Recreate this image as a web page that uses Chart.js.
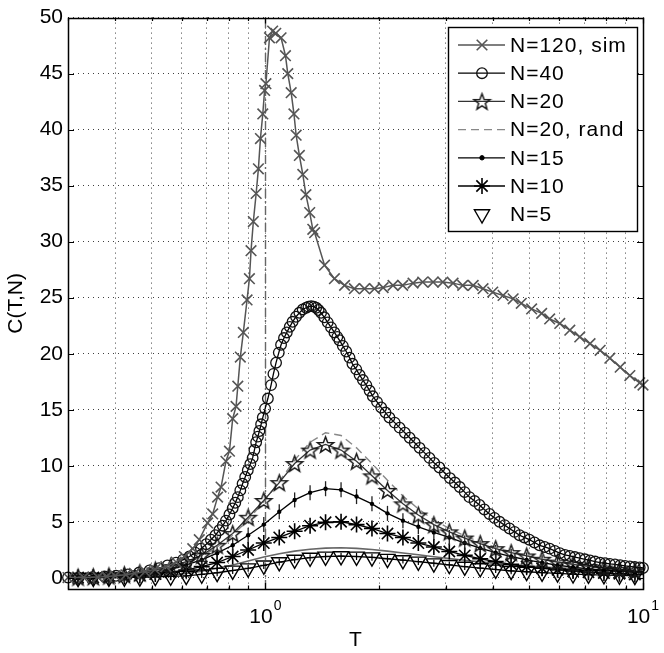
<!DOCTYPE html>
<html>
<head>
<meta charset="utf-8">
<title>C(T,N)</title>
<script src="https://cdn.jsdelivr.net/npm/chart.js@4.4.1/dist/chart.umd.min.js"></script>
<style>
  html, body { margin: 0; padding: 0; background: #fff; }
  #wrap { width: 664px; height: 653px; }
</style>
</head>
<body>
<div id="wrap"><canvas id="cChart"></canvas></div>
<script>
// N=120 simulation
const tSim = [0.30, 0.33, 0.36, 0.38, 0.40, 0.427, 0.45, 0.48, 0.51, 0.545, 0.58, 0.61, 0.642, 0.668, 0.703, 0.725, 0.747, 0.763, 0.786, 0.803, 0.819, 0.836, 0.845, 0.858, 0.874, 0.894, 0.907, 0.916, 0.929, 0.945, 0.958, 0.970, 0.984, 0.995, 1.003, 1.025, 1.045, 1.065, 1.10, 1.13, 1.146, 1.17, 1.19, 1.206, 1.23, 1.256, 1.28, 1.31, 1.335, 1.35, 1.434, 1.523, 1.62, 1.72, 1.83, 1.945, 2.05, 2.177, 2.31, 2.46, 2.61, 2.78, 2.95, 3.14, 3.33, 3.55, 3.77, 4.0, 4.26, 4.53, 4.76, 5.07, 5.39, 5.66, 6.02, 6.4, 6.8, 7.24, 7.7, 8.17, 8.7, 9.23, 9.8, 10.0];
const cSim = [0.02, 0.03, 0.06, 0.12, 0.18, 0.27, 0.4, 0.56, 0.75, 1.0, 1.4, 1.9, 2.6, 3.4, 4.9, 5.7, 7.2, 8.1, 10.4, 11.3, 14.2, 15.3, 17.1, 19.7, 21.9, 24.8, 26.7, 29.2, 31.8, 34.3, 36.5, 39.2, 41.4, 43.5, 44.1, 48.2, 48.8, 48.6, 48.2, 46.6, 45.0, 43.3, 41.4, 39.5, 37.7, 36.0, 34.2, 32.6, 31.1, 30.8, 27.9, 26.7, 26.1, 25.8, 25.8, 25.8, 25.9, 26.1, 26.1, 26.3, 26.4, 26.4, 26.4, 26.3, 26.1, 26.1, 25.8, 25.5, 25.2, 24.9, 24.5, 24.0, 23.6, 23.1, 22.7, 22.1, 21.5, 20.9, 20.3, 19.6, 18.8, 18.05, 17.4, 17.2];

// N=40
const tN40 = [0.300, 0.320, 0.348, 0.375, 0.402, 0.432, 0.463, 0.493, 0.523, 0.550, 0.580, 0.605, 0.629, 0.652, 0.675, 0.697, 0.717, 0.737, 0.755, 0.771, 0.786, 0.803, 0.819, 0.832, 0.845, 0.858, 0.870, 0.884, 0.898, 0.912, 0.925, 0.935, 0.945, 0.955, 0.964, 0.974, 0.984, 0.998, 1.015, 1.035, 1.050, 1.067, 1.085, 1.100, 1.120, 1.139, 1.160, 1.180, 1.205, 1.230, 1.255, 1.282, 1.300, 1.322, 1.343, 1.363, 1.383, 1.404, 1.432, 1.462, 1.492, 1.523, 1.550, 1.571, 1.603, 1.637, 1.670, 1.700, 1.740, 1.776, 1.812, 1.850, 1.888, 1.925, 1.975, 2.026, 2.080, 2.130, 2.200, 2.267, 2.340, 2.410, 2.485, 2.560, 2.640, 2.720, 2.800, 2.890, 2.985, 3.080, 3.175, 3.270, 3.370, 3.470, 3.580, 3.690, 3.800, 3.920, 4.040, 4.170, 4.300, 4.430, 4.570, 4.710, 4.850, 5.000, 5.160, 5.320, 5.490, 5.660, 5.840, 6.020, 6.210, 6.400, 6.600, 6.800, 7.020, 7.240, 7.470, 7.700, 7.930, 8.170, 8.430, 8.700, 8.960, 9.230, 9.510, 9.800, 10.000];
const cN40 = [0.02, 0.03, 0.06, 0.11, 0.18, 0.30, 0.47, 0.65, 0.86, 1.10, 1.35, 1.62, 1.90, 2.25, 2.60, 3.00, 3.40, 3.80, 4.25, 4.65, 5.10, 5.65, 6.20, 6.70, 7.20, 7.80, 8.40, 9.00, 9.60, 10.15, 10.70, 11.40, 12.10, 12.60, 13.10, 13.70, 14.30, 15.10, 16.00, 17.20, 18.20, 19.20, 20.10, 20.80, 21.40, 21.90, 22.40, 22.85, 23.30, 23.65, 23.95, 24.10, 24.20, 24.25, 24.20, 24.10, 23.90, 23.65, 23.25, 22.80, 22.35, 21.90, 21.50, 21.20, 20.70, 20.20, 19.65, 19.10, 18.60, 18.10, 17.65, 17.20, 16.70, 16.20, 15.70, 15.20, 14.75, 14.30, 13.85, 13.40, 12.95, 12.50, 12.05, 11.60, 11.15, 10.70, 10.25, 9.85, 9.35, 8.90, 8.50, 8.10, 7.65, 7.20, 6.85, 6.50, 6.10, 5.70, 5.35, 5.00, 4.70, 4.40, 4.10, 3.80, 3.60, 3.40, 3.15, 2.90, 2.75, 2.60, 2.40, 2.20, 2.05, 1.95, 1.85, 1.75, 1.65, 1.55, 1.45, 1.35, 1.30, 1.24, 1.19, 1.12, 1.06, 1.01, 0.96, 0.92, 0.88];

// sample temperatures shared by N=20, N=15, N=10, N=5
const tGrid = [0.319, 0.350, 0.385, 0.423, 0.465, 0.511, 0.561, 0.617, 0.678, 0.745, 0.819, 0.900, 0.990, 1.088, 1.195, 1.313, 1.443, 1.586, 1.743, 1.915, 2.105, 2.313, 2.541, 2.793, 3.069, 3.372, 3.706, 4.072, 4.475, 4.918, 5.404, 5.939, 6.526, 7.171, 7.881, 8.660, 9.517];
const cN20 = [0.06, 0.10, 0.17, 0.28, 0.45, 0.70, 1.00, 1.45, 2.00, 2.90, 3.95, 5.40, 6.90, 8.50, 10.20, 11.40, 11.90, 11.40, 10.40, 9.10, 7.80, 6.60, 5.60, 4.75, 4.10, 3.55, 3.05, 2.60, 2.25, 1.95, 1.65, 1.40, 1.20, 1.02, 0.87, 0.74, 0.63];
const cN20rand = [0.05, 0.08, 0.14, 0.24, 0.40, 0.62, 0.92, 1.35, 1.90, 2.75, 3.80, 5.20, 6.80, 8.60, 10.50, 12.10, 12.95, 12.70, 11.60, 10.20, 8.70, 7.30, 6.15, 5.15, 4.40, 3.75, 3.20, 2.72, 2.32, 1.98, 1.68, 1.43, 1.22, 1.04, 0.89, 0.76, 0.65];
const cN15 = [0.04, 0.07, 0.13, 0.22, 0.35, 0.55, 0.80, 1.15, 1.60, 2.20, 2.90, 3.80, 4.75, 5.90, 6.95, 7.60, 7.95, 7.85, 7.25, 6.60, 5.75, 5.10, 4.55, 4.05, 3.60, 3.10, 2.65, 2.25, 1.90, 1.60, 1.35, 1.12, 0.95, 0.80, 0.68, 0.57, 0.48];
const cN10 = [0.02, 0.04, 0.07, 0.12, 0.20, 0.33, 0.50, 0.70, 1.00, 1.36, 1.90, 2.48, 3.10, 3.60, 4.15, 4.65, 4.95, 5.00, 4.75, 4.40, 3.95, 3.60, 3.10, 2.75, 2.35, 2.00, 1.70, 1.45, 1.20, 1.00, 0.85, 0.72, 0.60, 0.50, 0.42, 0.36, 0.30];
const cN5 = [0.00, 0.01, 0.02, 0.03, 0.05, 0.08, 0.12, 0.18, 0.30, 0.45, 0.65, 0.85, 1.10, 1.40, 1.62, 1.80, 1.90, 1.93, 1.90, 1.83, 1.70, 1.58, 1.45, 1.30, 1.15, 1.00, 0.86, 0.74, 0.62, 0.54, 0.47, 0.40, 0.32, 0.28, 0.24, 0.21, 0.18];
const cN5exact = [0.00, 0.01, 0.02, 0.04, 0.08, 0.14, 0.24, 0.38, 0.58, 0.85, 1.15, 1.50, 1.85, 2.15, 2.38, 2.55, 2.65, 2.68, 2.63, 2.52, 2.38, 2.22, 2.05, 1.88, 1.72, 1.56, 1.42, 1.29, 1.17, 1.06, 0.97, 0.89, 0.82, 0.76, 0.70, 0.65, 0.60];

const tCritical = 1;

// axes
const xTicks = [0.3, 0.4, 0.5, 0.6, 0.7, 0.8, 0.9, 1, 2, 3, 4, 5, 6, 7, 8, 9, 10];
const xMajor = [1, 10];
const xMajorExp = ['0', '1'];
const yTicks = [0, 5, 10, 15, 20, 25, 30, 35, 40, 45, 50];

const FONT = '"Liberation Sans", Arial, Helvetica, sans-serif';

function pts(ts, cs) {
    return ts.map((t, i) => ({ x: t, y: cs[i] }));
}

// MATLAB style pentagram marker, Chart.js has none
function makePentagram(r, color) {
    const size = Math.ceil(r * 2 + 4);
    const c = document.createElement('canvas');
    c.width = size;
    c.height = size;
    const g = c.getContext('2d');
    const cx = size / 2, cy = size / 2 + 0.8;
    g.beginPath();
    for (let k = 0; k < 10; k++) {
        const rr = k % 2 === 0 ? r : r * 0.42;
        const a = -Math.PI / 2 + k * Math.PI / 5;
        const px = cx + rr * Math.cos(a), py = cy + rr * Math.sin(a);
        if (k === 0) g.moveTo(px, py); else g.lineTo(px, py);
    }
    g.closePath();
    g.lineWidth = 1.5;
    g.strokeStyle = color;
    g.stroke();
    return c;
}
const pentagram = makePentagram(8.5, '#1a1a1a');

const datasets = [
    {   // 0
        label: 'N=120, sim', data: pts(tSim, cSim),
        borderColor: '#555', borderWidth: 1.5,
        pointStyle: 'crossRot', pointRadius: 7.5, pointBorderWidth: 1.6,
        pointBorderColor: '#555', pointBackgroundColor: 'rgba(0,0,0,0)'
    },
    {   // 1
        label: 'N=40', data: pts(tN40, cN40),
        borderColor: '#000', borderWidth: 1.3,
        pointStyle: 'circle', pointRadius: 5.3, pointBorderWidth: 1.3,
        pointBorderColor: '#111', pointBackgroundColor: 'rgba(0,0,0,0)'
    },
    {   // 2
        label: 'N=20', data: pts(tGrid, cN20),
        borderColor: '#333', borderWidth: 1.3,
        pointStyle: pentagram, pointRadius: 8.5, pointBorderWidth: 1.5,
        pointBorderColor: '#1a1a1a', pointBackgroundColor: 'rgba(0,0,0,0)'
    },
    {   // 3
        label: 'N=20, rand', data: pts(tGrid, cN20rand),
        borderColor: '#888', borderWidth: 1.4, borderDash: [8, 5],
        pointRadius: 0
    },
    {   // 4
        label: 'N=15', data: pts(tGrid, cN15),
        borderColor: '#000', borderWidth: 1.3,
        pointStyle: 'circle', pointRadius: 2.2, pointBorderWidth: 0,
        pointBorderColor: '#000', pointBackgroundColor: '#000'
    },
    {   // 5 error bars of N=15
        label: '', data: pts(tGrid, cN15), showLine: false,
        pointStyle: 'line', pointRotation: 90, pointRadius: 7.5, pointBorderWidth: 1.3,
        pointBorderColor: '#222'
    },
    {   // 6
        label: 'N=10', data: pts(tGrid, cN10),
        borderColor: '#000', borderWidth: 1.3,
        pointStyle: 'star', pointRadius: 8, pointBorderWidth: 1.6,
        pointBorderColor: '#000', pointBackgroundColor: 'rgba(0,0,0,0)'
    },
    {   // 7
        label: 'N=5', data: pts(tGrid, cN5), showLine: false,
        pointStyle: 'triangle', pointRotation: 180, pointRadius: 8.8, pointBorderWidth: 1.4,
        pointBorderColor: '#000', pointBackgroundColor: 'rgba(0,0,0,0)'
    },
    {   // 8
        label: '', data: pts(tGrid, cN5),
        borderColor: '#000', borderWidth: 1.3,
        pointStyle: 'cross', pointRadius: 3.5, pointBorderWidth: 1.2,
        pointBorderColor: '#000'
    },
    {   // 9
        label: '', data: pts(tGrid, cN5exact),
        borderColor: '#666', borderWidth: 1.6, pointRadius: 0
    }
];
datasets.forEach(ds => {
    ds.showLine = ds.showLine !== false;
    ds.clip = false;
    ds.tension = 0;
});

// which datasets appear in the legend, and how
const legendRows = [
    { ds: 0, line: true, marker: true },
    { ds: 1, line: true, marker: true },
    { ds: 2, line: true, marker: true },
    { ds: 3, line: true, marker: false },
    { ds: 4, line: true, marker: true },
    { ds: 6, line: true, marker: true },
    { ds: 7, line: false, marker: true }
];

const tcLine = {
    id: 'tcLine',
    beforeDatasetsDraw(chart) {
        const { ctx, chartArea, scales: { x } } = chart;
        const px = Math.round(x.getPixelForValue(tCritical)) + 0.5;
        ctx.save();
        ctx.strokeStyle = '#666';
        ctx.lineWidth = 1.4;
        ctx.setLineDash([9, 3, 2, 3]);
        ctx.beginPath();
        ctx.moveTo(px, chartArea.bottom);
        ctx.lineTo(px, chartArea.top);
        ctx.stroke();
        ctx.restore();
    }
};

// box round the axes with inward tick marks
const axesBox = {
    id: 'axesBox',
    afterDatasetsDraw(chart) {
        const { ctx, chartArea: a, scales: { x, y } } = chart;
        ctx.save();
        ctx.strokeStyle = '#000';
        ctx.lineWidth = 1.2;
        ctx.beginPath();
        xTicks.forEach(v => {
            const px = Math.round(x.getPixelForValue(v)) + 0.5;
            const len = xMajor.includes(v) ? 6 : 3.5;
            ctx.moveTo(px, a.bottom); ctx.lineTo(px, a.bottom - len);
            ctx.moveTo(px, a.top); ctx.lineTo(px, a.top + len);
        });
        yTicks.forEach(v => {
            const py = Math.round(y.getPixelForValue(v)) + 0.5;
            ctx.moveTo(a.left, py); ctx.lineTo(a.left + 6, py);
            ctx.moveTo(a.right, py); ctx.lineTo(a.right - 6, py);
        });
        ctx.stroke();
        ctx.lineWidth = 1.5;
        ctx.strokeRect(Math.round(a.left) + 0.5, Math.round(a.top) + 0.5,
            Math.round(a.right - a.left), Math.round(a.bottom - a.top));
        ctx.restore();
    }
};

// 10^0, 10^1 labels with a raised exponent
const expLabels = {
    id: 'expLabels',
    afterDraw(chart) {
        const { ctx, chartArea, scales: { x } } = chart;
        const baseFont = '21px ' + FONT, expFont = '14px ' + FONT;
        ctx.save();
        ctx.fillStyle = '#000';
        ctx.textAlign = 'left';
        ctx.textBaseline = 'alphabetic';
        xMajor.forEach((v, i) => {
            ctx.font = baseFont;
            const wBase = ctx.measureText('10').width;
            ctx.font = expFont;
            const wExp = ctx.measureText(xMajorExp[i]).width;
            const left = x.getPixelForValue(v) - (wBase + wExp + 1) / 2;
            ctx.font = baseFont;
            ctx.fillText('10', left, chartArea.bottom + 34);
            ctx.font = expFont;
            ctx.fillText(xMajorExp[i], left + wBase + 1, chartArea.bottom + 21);
        });
        ctx.restore();
    }
};

const boxLegend = {
    id: 'boxLegend',
    afterDraw(chart) {
        const { ctx, chartArea } = chart;
        const w = 189, h = 204;
        const x0 = Math.round(chartArea.right - 6 - w), y0 = Math.round(chartArea.top + 9);
        ctx.save();
        ctx.fillStyle = '#fff';
        ctx.fillRect(x0, y0, w, h);
        ctx.strokeStyle = '#000';
        ctx.lineWidth = 1.4;
        ctx.strokeRect(x0 + 0.5, y0 + 0.5, w, h);
        ctx.font = '21px ' + FONT;
        ctx.letterSpacing = '1px';
        ctx.textBaseline = 'middle';
        ctx.textAlign = 'left';
        legendRows.forEach((row, i) => {
            const ds = chart.data.datasets[row.ds];
            const yy = y0 + 18 + i * 28.2;
            if (row.line) {
                ctx.strokeStyle = ds.borderColor;
                ctx.lineWidth = ds.borderWidth;
                ctx.setLineDash(ds.borderDash || []);
                ctx.beginPath();
                ctx.moveTo(x0 + 10, yy);
                ctx.lineTo(x0 + 57, yy);
                ctx.stroke();
                ctx.setLineDash([]);
            }
            if (row.marker) {
                ctx.strokeStyle = ds.pointBorderColor;
                ctx.fillStyle = ds.pointBackgroundColor;
                ctx.lineWidth = ds.pointBorderWidth || 1;
                Chart.helpers.drawPoint(ctx, {
                    pointStyle: ds.pointStyle,
                    rotation: ds.pointRotation || 0,
                    radius: ds.pointRadius,
                    borderWidth: ds.pointBorderWidth || 1
                }, x0 + 34, yy);
            }
            ctx.fillStyle = '#000';
            ctx.fillText(ds.label, x0 + 62, yy + 1);
        });
        ctx.restore();
    }
};

new Chart(document.getElementById('cChart').getContext('2d'), {
    type: 'scatter',
    data: { datasets: datasets },
    options: {
        responsive: true,
        maintainAspectRatio: false,
        animation: false,
        events: [],
        layout: { padding: { left: 0, top: 13, right: 21, bottom: 0 } },
        plugins: {
            legend: { display: false },
            tooltip: { enabled: false }
        },
        scales: {
            x: {
                type: 'logarithmic',
                min: 0.3,
                max: 10,
                afterBuildTicks: scale => { scale.ticks = xTicks.map(v => ({ value: v })); },
                afterFit: scale => { scale.height = 64; },
                ticks: { display: false },
                grid: { color: 'rgba(0,0,0,0.75)', lineWidth: 1, drawTicks: false },
                border: { display: false, dash: [1, 4] },
                title: {
                    display: true, text: 'T', color: '#000',
                    font: { size: 21, family: FONT },
                    padding: { top: 0, bottom: 0 }
                }
            },
            y: {
                type: 'linear',
                min: -1,
                max: 50,
                afterBuildTicks: scale => { scale.ticks = yTicks.map(v => ({ value: v })); },
                afterFit: scale => { scale.width = 68; },
                ticks: { color: '#000', padding: 5, font: { size: 21, family: FONT } },
                grid: { color: 'rgba(0,0,0,0.75)', lineWidth: 1, drawTicks: false },
                border: { display: false, dash: [1, 4] },
                title: {
                    display: true, text: 'C(T,N)', color: '#000',
                    font: { size: 21, family: FONT },
                    padding: { top: 4, bottom: 0 }
                }
            }
        }
    },
    plugins: [tcLine, axesBox, expLabels, boxLegend]
});
</script>
</body>
</html>
